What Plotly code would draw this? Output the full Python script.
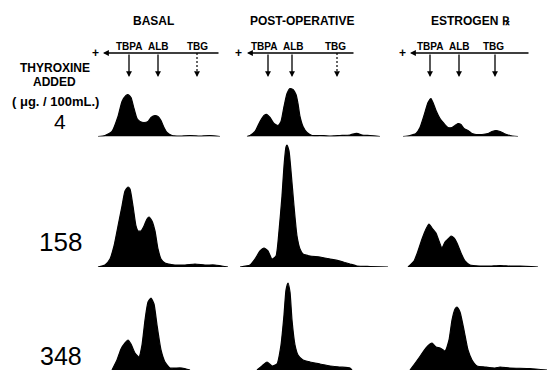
import plotly.graph_objects as go

W, H = 554, 370

# ---------------- data (mobility in arbitrary units from the anode side, absorbance in arbitrary units) -------------
columns = ["BASAL", "POST-OPERATIVE", "ESTROGEN \u211e"]
doses = ["4", "158", "348"]
protein_labels = ["TBPA", "ALB", "TBG"]

# marker mobilities per column: TBPA, ALB, TBG
basal_markers = [39, 68, 107]
postop_markers = [31, 55, 100]
estrogen_markers = [30, 59, 95]
tbg_dashed = [True, True, False]

# thyroxine 4 ug/100 mL
basal_4_x = [8, 15, 22, 28, 32, 36, 38, 41, 44, 47, 50, 54, 58, 61, 65, 68, 71, 74, 77, 82, 90, 100, 110, 120, 130]
basal_4_y = [0, 1, 5, 20, 35, 41, 42, 39, 28, 18, 15, 14, 15, 19, 21, 20, 16, 9, 4, 1, 0.5, 1, 0.5, 1, 0]
postop_4_x = [10, 13, 18, 23, 27, 30, 33, 37, 41, 44, 47, 50, 53, 56, 59, 61, 63, 66, 70, 75, 83, 93, 103, 113, 118, 121, 125, 133, 143]
postop_4_y = [0, 1, 5, 15, 21, 22, 19, 13, 11, 15, 30, 43, 48, 47, 42, 33, 20, 10, 4, 1, 1, 0.5, 1, 1.5, 3, 3, 1.5, 1, 0]
estrogen_4_x = [3, 10, 16, 20, 24, 28, 31, 33, 36, 40, 44, 48, 52, 55, 58, 61, 64, 68, 72, 76, 82, 88, 92, 96, 100, 104, 110, 118]
estrogen_4_y = [0, 1, 3, 9, 21, 34, 38, 34, 26, 18, 13, 9, 9, 11, 13, 12, 8, 6, 3, 2, 2, 3, 5, 6, 5, 3, 1, 0]

# thyroxine 158 ug/100 mL
basal_158_x = [8, 15, 20, 24, 28, 32, 35, 38, 40, 43, 46, 48, 51, 54, 57, 59, 62, 65, 68, 71, 75, 85, 95, 105, 115, 125, 138]
basal_158_y = [0, 2, 8, 21, 41, 61, 76, 80, 78, 61, 41, 36, 36, 41, 48, 50, 46, 36, 18, 8, 4, 2, 2, 3, 2, 2, 0]
postop_158_x = [3, 13, 18, 23, 27, 31, 35, 39, 42, 45, 47, 49, 50, 52, 54, 57, 60, 63, 66, 73, 83, 93, 103, 113, 120, 133, 151]
postop_158_y = [0, 2, 8, 16, 19, 16, 8, 11, 36, 71, 101, 120, 122, 116, 96, 61, 31, 18, 13, 11, 10, 8, 6, 3, 1, 0.5, 0]
estrogen_158_x = [8, 14, 18, 22, 26, 29, 32, 36, 39, 42, 45, 48, 51, 54, 57, 61, 65, 70, 80, 90, 100, 110, 120, 138]
estrogen_158_y = [0, 6, 16, 28, 38, 43, 39, 34, 26, 19, 25, 28, 31, 29, 24, 14, 6, 2, 1, 1, 1.5, 1, 1, 0]

# thyroxine 348 ug/100 mL
basal_348_x = [22, 27, 31, 35, 38, 41, 45, 49, 52, 55, 58, 61, 64, 67, 71, 75, 80, 85, 92, 100]
basal_348_y = [0, 10, 21, 27, 30, 26, 17, 13, 25, 50, 68, 72, 66, 45, 20, 8, 2, 2, 2, 0]
postop_348_x = [20, 25, 30, 35, 40, 44, 47, 49, 51, 53, 55, 58, 61, 66, 73, 83, 93, 103, 113, 115]
postop_348_y = [0, 4, 8, 4, 6, 25, 55, 80, 87, 78, 50, 25, 15, 10, 8, 6, 4, 3, 2, 0]
estrogen_348_x = [10, 16, 21, 26, 30, 32, 36, 40, 45, 49, 52, 55, 57, 60, 64, 68, 72, 77, 85, 95, 100, 110, 130, 147]
estrogen_348_y = [0, 8, 15, 22, 26, 27, 23, 22, 19, 30, 50, 61, 63, 58, 40, 20, 10, 4, 3, 2, 3, 2, 1.5, 0]

traces = [
    [(basal_4_x, basal_4_y), (postop_4_x, postop_4_y), (estrogen_4_x, estrogen_4_y)],
    [(basal_158_x, basal_158_y), (postop_158_x, postop_158_y), (estrogen_158_x, estrogen_158_y)],
    [(basal_348_x, basal_348_y), (postop_348_x, postop_348_y), (estrogen_348_x, estrogen_348_y)],
]
markers = [basal_markers, postop_markers, estrogen_markers]

# ---------------- layout geometry (pixels) ----------------
col_px = [(90, 236), (237, 392), (400, 554)]      # left, right
row_px = [(81, 136.5), (141, 267), (275, 370)]    # top, bottom
label_shift = [[0, 0, 0], [-4, 1, -2], [0, 0, -2]]  # small text offsets of marker labels (px)


def px(x):
    return x / W


def py(y):
    return 1 - y / H


fig = go.Figure()
layout = {}
for r in range(3):
    for c in range(3):
        k = r * 3 + c + 1
        sx = "" if k == 1 else str(k)
        xs, ys = traces[r][c]
        fig.add_trace(go.Scatter(
            x=xs, y=ys, mode="lines", fill="tozeroy",
            fillcolor="black", line=dict(color="black", width=1.2, shape="spline", smoothing=0.5),
            xaxis="x" + sx, yaxis="y" + sx, showlegend=False, hoverinfo="skip"))
        l, rr = col_px[c]
        t, b = row_px[r]
        layout["xaxis" + sx] = dict(domain=[px(l), px(rr)], range=[0, rr - l], visible=False, fixedrange=True)
        layout["yaxis" + sx] = dict(domain=[py(b), py(t)], range=[0, b - t], visible=False, fixedrange=True)

fig.update_layout(**layout)

annotations = []
shapes = []
bold = dict(family="Liberation Sans, Arial, sans-serif", color="black")

# column titles
title_x = [153, 302, 470]
for c in range(3):
    annotations.append(dict(x=px(title_x[c]), y=py(21), xref="paper", yref="paper", text="<b>%s</b>" % columns[c],
                            showarrow=False, font=dict(size=12, **bold), xanchor="center", yanchor="middle"))

# migration axes and protein markers
line_y = 53
head_y = 77
for c in range(3):
    xr = "x" if c == 0 else "x%d" % (c + 1)
    x_head = 13 if c == 0 else 10
    x_tail = 130 if c != 1 else 118
    # horizontal arrow pointing to the anode (left)
    annotations.append(dict(x=x_head, y=py(line_y), xref=xr, yref="paper", ax=x_tail - x_head, ay=0,
                            showarrow=True, arrowhead=2, arrowsize=0.9, arrowwidth=1.3, arrowcolor="black", text=""))
    annotations.append(dict(x=x_head - 8, y=py(line_y), xref=xr, yref="paper", text="<b>+</b>", showarrow=False,
                            font=dict(size=12, **bold), xanchor="center", yanchor="middle"))
    for i, m in enumerate(markers[c]):
        annotations.append(dict(x=m, y=py(46), xref=xr, yref="paper", text="<b>%s</b>" % protein_labels[i],
                                xshift=label_shift[c][i],
                                showarrow=False, font=dict(size=10, **bold), xanchor="center", yanchor="middle"))
        if i == 2 and tbg_dashed[c]:
            shapes.append(dict(type="line", x0=m, x1=m, y0=py(line_y), y1=py(head_y - 4), xref=xr, yref="paper",
                               line=dict(color="black", width=1.2, dash="2px,2px")))
            annotations.append(dict(x=m, y=py(head_y), xref=xr, yref="paper", ax=0, ay=-5, showarrow=True,
                                    arrowhead=2, arrowsize=0.9, arrowwidth=1.3, arrowcolor="black", text=""))
        else:
            annotations.append(dict(x=m, y=py(head_y), xref=xr, yref="paper", ax=0, ay=-(head_y - line_y),
                                    showarrow=True, arrowhead=2, arrowsize=0.9, arrowwidth=1.3,
                                    arrowcolor="black", text=""))

# left labels
annotations.append(dict(x=px(55), y=py(68), xref="paper", yref="paper", text="<b>THYROXINE</b>", showarrow=False,
                        font=dict(size=12, **bold), xanchor="center", yanchor="middle"))
annotations.append(dict(x=px(54), y=py(82), xref="paper", yref="paper", text="<b>ADDED</b>", showarrow=False,
                        font=dict(size=12, **bold), xanchor="center", yanchor="middle"))
annotations.append(dict(x=px(56), y=py(101), xref="paper", yref="paper", text="<b>( \u03bcg. / 100mL.)</b>",
                        showarrow=False, font=dict(size=13, **bold), xanchor="center", yanchor="middle"))
dose_pos = [(60, 122), (60, 242), (61, 356)]
dose_size = [21, 26, 25]
for r in range(3):
    annotations.append(dict(x=px(dose_pos[r][0]), y=py(dose_pos[r][1]), xref="paper", yref="paper", text=doses[r],
                            showarrow=False, font=dict(size=dose_size[r], family="Liberation Sans, Arial, sans-serif",
                                                       color="black"),
                            xanchor="center", yanchor="middle"))

fig.update_layout(width=W, height=H, margin=dict(l=0, r=0, t=0, b=0), paper_bgcolor="white",
                  plot_bgcolor="white", annotations=annotations, shapes=shapes)

fig.write_html("out.html", config={"displayModeBar": False, "staticPlot": True},
               post_script="document.body.style.margin='0';document.body.style.overflow='hidden';")
